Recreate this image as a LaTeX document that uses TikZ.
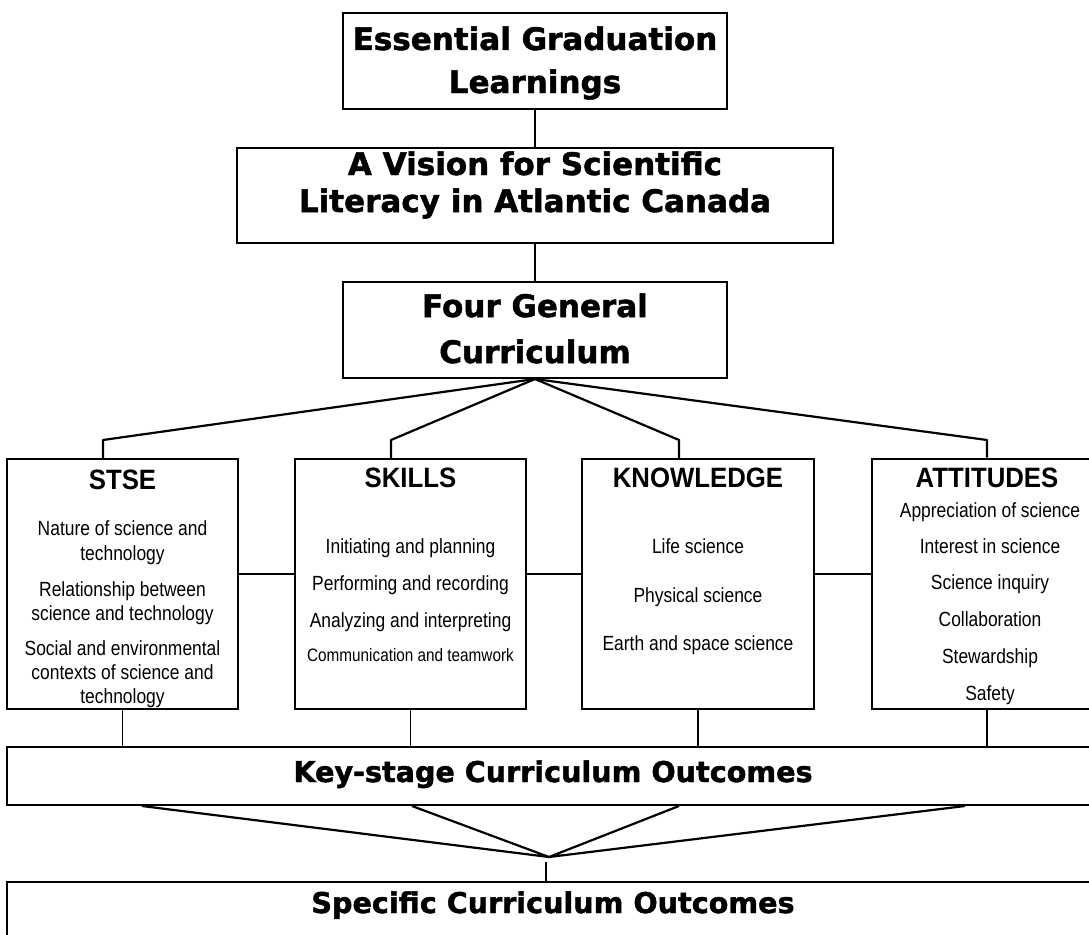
\documentclass[tikz,border=0pt]{standalone}
\usepackage{fontspec}
\setmainfont{Liberation Sans}
\newfontfamily\blackfont{DejaVu Sans}[BoldFeatures={FakeBold=1.6}]
\newfontfamily\narrowfont{Liberation Sans}[FakeStretch=0.85]
\newfontfamily\headfont{Liberation Sans}[FakeStretch=0.92]
\tikzset{
  box/.style={draw, line width=2pt, inner sep=0pt},
  big/.style={anchor=base, inner sep=0pt, font=\blackfont\bfseries\fontsize{31}{36}\selectfont},
  bigb/.style={anchor=base, inner sep=0pt, font=\blackfont\bfseries\fontsize{28.6}{34}\selectfont},
  head/.style={anchor=base, inner sep=0pt, font=\headfont\bfseries\fontsize{28}{32}\selectfont},
  item/.style={anchor=base, inner sep=0pt, font=\narrowfont\fontsize{20.5}{24}\selectfont},
  itemsm/.style={anchor=base, inner sep=0pt, font=\narrowfont\fontsize{18}{21}\selectfont},
  thin/.style={line width=1.2pt},
  fan/.style={line width=2.2pt, line join=round},
}
\begin{document}
\begin{tikzpicture}[x=1pt,y=-1pt]
\useasboundingbox (0,0) rectangle (1089,934);
\clip (0,0) rectangle (1089,934);
% boxes
\node[box, minimum width=384pt, minimum height=96pt] (b1) at (535,61) {};
\node[box, minimum width=596pt, minimum height=95pt] (b2) at (535,195.5) {};
\node[box, minimum width=384pt, minimum height=96pt] (b3) at (535,330) {};
\node[box, minimum width=231pt, minimum height=250pt] (stse) at (122.5,584) {};
\node[box, minimum width=231pt, minimum height=250pt] (skills) at (410.5,584) {};
\node[box, minimum width=232pt, minimum height=250pt] (know) at (698,584) {};
\node[box, line width=2.8pt, minimum width=230pt, minimum height=250pt] (att) at (987,584) {};
\node[box, minimum width=1093pt, minimum height=58pt] (key) at (553.5,776) {};
\node[box, minimum width=1093pt, minimum height=100pt] (spec) at (553.5,932) {};
% top texts
\node[big] (e1) at (535,50) {Essential Graduation};
\node[big] (e2) at (535,93) {Learnings};
\node[big] (v1) at (535,175) {A Vision for Scientific};
\node[big] (v2) at (535,212) {Literacy in Atlantic Canada};
\node[big] (g1) at (535,317) {Four General};
\node[big] (g2) at (535,363) {Curriculum};
\node[bigb] (k1) at (553,782) {Key-stage Curriculum Outcomes};
\node[bigb] (s1) at (553,913) {Specific Curriculum Outcomes};
% STSE
\node[head] (h1) at (122.5,489) {STSE};
\node[item] (a1) at (122.5,535) {Nature of science and};
\node[item] (a2) at (122.5,560) {technology};
\node[item] (a3) at (122.5,596) {Relationship between};
\node[item] (a4) at (122.5,620) {science and technology};
\node[item] (a5) at (122.5,655) {Social and environmental};
\node[item] (a6) at (122.5,679) {contexts of science and};
\node[item] (a7) at (122.5,703) {technology};
% SKILLS
\node[head] (h2) at (410.5,487) {SKILLS};
\node[item] (c1) at (410.5,553) {Initiating and planning};
\node[item] (c2) at (410.5,590) {Performing and recording};
\node[item] (c3) at (410.5,627) {Analyzing and interpreting};
\node[itemsm] (c4) at (410.5,661) {Communication and teamwork};
% KNOWLEDGE
\node[head] (h3) at (698,487) {KNOWLEDGE};
\node[item] (d1) at (698,553) {Life science};
\node[item] (d2) at (698,602) {Physical science};
\node[item] (d3) at (698,650) {Earth and space science};
% ATTITUDES
\node[head] (h4) at (987,487) {ATTITUDES};
\node[item] (f1) at (990,517) {Appreciation of science};
\node[item] (f2) at (990,553) {Interest in science};
\node[item] (f3) at (990,589) {Science inquiry};
\node[item] (f4) at (990,626) {Collaboration};
\node[item] (f5) at (990,663) {Stewardship};
\node[item] (f6) at (990,700) {Safety};
% top connectors
\draw[thin] (b1.south) -- (b2.north);
\draw[thin] (b2.south) -- (b3.north);
% fan to four boxes
\coordinate (X1) at (103,440);
\coordinate (X2) at (391,440);
\coordinate (X3) at (679,440);
\coordinate (X4) at (987,440);
\draw[fan] (b3.south) -- (X1) -- (X1 |- stse.north);
\draw[fan] (b3.south) -- (X2) -- (X2 |- skills.north);
\draw[fan] (b3.south) -- (X3) -- (X3 |- know.north);
\draw[fan] (b3.south) -- (X4) -- (X4 |- att.north);
% middle horizontal connectors
\coordinate (M) at (0,574);
\draw[thin] (stse.east |- M) -- (skills.west |- M);
\draw[thin] (skills.east |- M) -- (know.west |- M);
\draw[thin] (know.east |- M) -- (att.west |- M);
% down to key-stage
\draw[thin] (stse.south) -- (stse.south |- key.north);
\draw[thin] (skills.south) -- (skills.south |- key.north);
\draw[thin] (know.south) -- (know.south |- key.north);
\draw[thin] (att.south) -- (att.south |- key.north);
% bottom fan
\coordinate (apex) at (549,857);
\coordinate (K1) at (142,0);
\coordinate (K2) at (412,0);
\coordinate (K3) at (679,0);
\coordinate (K4) at (965,0);
\draw[fan] (K1 |- key.south) -- (apex) -- (K2 |- key.south);
\draw[fan] (K3 |- key.south) -- (apex) -- (K4 |- key.south);
\coordinate (vtop) at (546,862);
\draw[thin] (vtop) -- (vtop |- spec.north);
\end{tikzpicture}
\end{document}
